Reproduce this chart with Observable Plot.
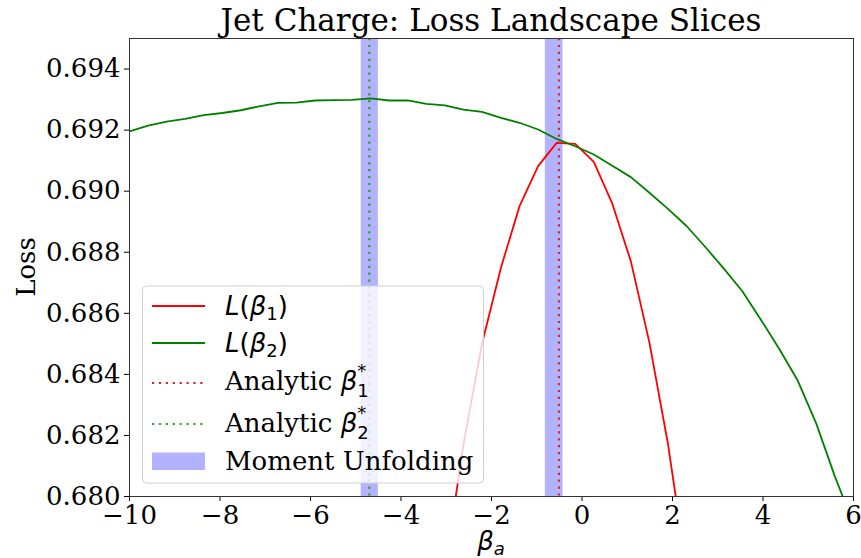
<!DOCTYPE html>
<html><head><meta charset="utf-8">
<script src="https://cdn.jsdelivr.net/npm/d3@7"></script>
<script src="https://cdn.jsdelivr.net/npm/@observablehq/plot@0.6"></script>
<style>
body{margin:0;background:#fff;}
#wrap{position:relative;width:861px;height:558px;}
#wrap svg{position:absolute;left:0;top:0;}
.m{font-family:'DejaVu Sans',sans-serif;font-style:italic;}
.u{font-family:'DejaVu Sans',sans-serif;font-style:normal;}
</style></head><body><div id="wrap"></div>
<script>
// ---- data ----
const beta2X = [-10, -9.59, -9.18, -8.77, -8.36, -7.95, -7.54, -7.13, -6.72, -6.31, -5.90, -5.49, -5.08, -4.67, -4.26, -3.85, -3.44, -3.03, -2.62, -2.21, -1.79, -1.38, -0.97, -0.56, -0.15, 0.26, 0.67, 1.08, 1.49, 1.90, 2.31, 2.72, 3.13, 3.54, 3.95, 4.36, 4.77, 5.18, 5.59, 6.00];
const beta2Loss = [0.69196, 0.69215, 0.69228, 0.69237, 0.69249, 0.69256, 0.69265, 0.69278, 0.69289, 0.69290, 0.69297, 0.69298, 0.69299, 0.69304, 0.69297, 0.69297, 0.69286, 0.69281, 0.69267, 0.69260, 0.69240, 0.69224, 0.69202, 0.69171, 0.69147, 0.69120, 0.69083, 0.69046, 0.68995, 0.68942, 0.68886, 0.68818, 0.68747, 0.68673, 0.68580, 0.68483, 0.68379, 0.68238, 0.68065, 0.67910];
const beta1X = [-3.03, -2.62, -2.21, -1.79, -1.38, -0.97, -0.56, -0.15, 0.26, 0.67, 1.08, 1.49, 1.90, 2.31];
const beta1Loss = [0.6776, 0.6817, 0.6850, 0.68750, 0.68951, 0.69082, 0.69158, 0.69155, 0.69096, 0.68959, 0.68770, 0.68504, 0.68172, 0.6776];
const analyticBeta1 = -0.51;
const analyticBeta2 = -4.70;
const momentLo = [-0.81, -4.88];
const momentHi = [-0.42, -4.50];
const xTicks = [-10, -8, -6, -4, -2, 0, 2, 4, 6];
const yTicks = [0.680, 0.682, 0.684, 0.686, 0.688, 0.690, 0.692, 0.694];

const red = beta1X.map((x, i) => ({x, y: beta1Loss[i]}));
const green = beta2X.map((x, i) => ({x, y: beta2Loss[i]}));
const bands = momentLo.map((lo, i) => ({lo, hi: momentHi[i]}));

const chart = Plot.plot({
  width: 861, height: 558,
  marginLeft: 129, marginRight: 8, marginTop: 38, marginBottom: 62,
  style: {fontFamily: "'DejaVu Serif', serif", fontSize: "26px", color: "#000", background: "#fff", overflow: "visible"},
  x: {domain: [-10, 6], ticks: xTicks, tickSize: 5, tickPadding: 4, label: null,
      tickFormat: d => d < 0 ? "\u2212" + (-d) : String(d)},
  y: {domain: [0.680, 0.695], ticks: yTicks, tickSize: 5, tickPadding: 4, label: null,
      tickFormat: d3.format(".3f")},
  marks: [
    Plot.rect(bands, {x1: "lo", x2: "hi", fill: "#0000ff", fillOpacity: 0.3}),
    Plot.line(red, {x: "x", y: "y", stroke: "#ff0000", strokeWidth: 1.8, clip: true}),
    Plot.line(green, {x: "x", y: "y", stroke: "#008000", strokeWidth: 1.8, clip: true}),
    Plot.ruleX([analyticBeta1], {stroke: "#d62728", strokeWidth: 2.2, strokeDasharray: "2.2,4.7"}),
    Plot.ruleX([analyticBeta2], {stroke: "#2ca02c", strokeWidth: 2.2, strokeDasharray: "2.2,4.7"}),
    Plot.frame({stroke: "#333", strokeWidth: 1})
  ]
});
document.getElementById("wrap").appendChild(chart);

const ns = "http://www.w3.org/2000/svg";
const ov = `
<svg xmlns="${ns}" width="861" height="558" style="font-family:'DejaVu Serif',serif">
  <text x="491" y="31" text-anchor="middle" font-size="31">Jet Charge: Loss Landscape Slices</text>
  <text transform="rotate(-90)" x="-267" y="35" text-anchor="middle" font-size="26">Loss</text>
  <text x="491" y="550" text-anchor="middle" font-size="26"><tspan class="m">β</tspan><tspan class="m" font-size="18" dy="5">a</tspan></text>
  <rect x="142.5" y="286" width="341" height="197" rx="4" fill="#fff" fill-opacity="0.8" stroke="#d0d0d0"/>
  <line x1="152" x2="205" y1="306" y2="306" stroke="#ff0000" stroke-width="1.8"/>
  <line x1="152" x2="205" y1="343" y2="343" stroke="#008000" stroke-width="1.8"/>
  <line x1="152" x2="205" y1="383" y2="383" stroke="#d62728" stroke-width="2.2" stroke-dasharray="2.2,4.7"/>
  <line x1="152" x2="205" y1="424" y2="424" stroke="#2ca02c" stroke-width="2.2" stroke-dasharray="2.2,4.7"/>
  <rect x="152" y="452.5" width="53" height="17.5" fill="#0000ff" fill-opacity="0.3"/>
  <text x="225" y="315" font-size="26"><tspan class="m">L</tspan><tspan class="u">(</tspan><tspan class="m">β</tspan><tspan class="u" font-size="18" dy="5">1</tspan><tspan class="u" dy="-5">)</tspan></text>
  <text x="225" y="352" font-size="26"><tspan class="m">L</tspan><tspan class="u">(</tspan><tspan class="m">β</tspan><tspan class="u" font-size="18" dy="5">2</tspan><tspan class="u" dy="-5">)</tspan></text>
  <text x="225" y="390" font-size="26">Analytic <tspan class="m">β</tspan><tspan class="u" font-size="18" dy="7">1</tspan><tspan class="u" font-size="18" dx="-11.4" dy="-20">*</tspan></text>
  <text x="225" y="432" font-size="26">Analytic <tspan class="m">β</tspan><tspan class="u" font-size="18" dy="7">2</tspan><tspan class="u" font-size="18" dx="-11.4" dy="-20">*</tspan></text>
  <text x="225" y="470" font-size="26">Moment Unfolding</text>
</svg>`;
document.getElementById("wrap").insertAdjacentHTML("beforeend", ov);
</script>
</body></html>
